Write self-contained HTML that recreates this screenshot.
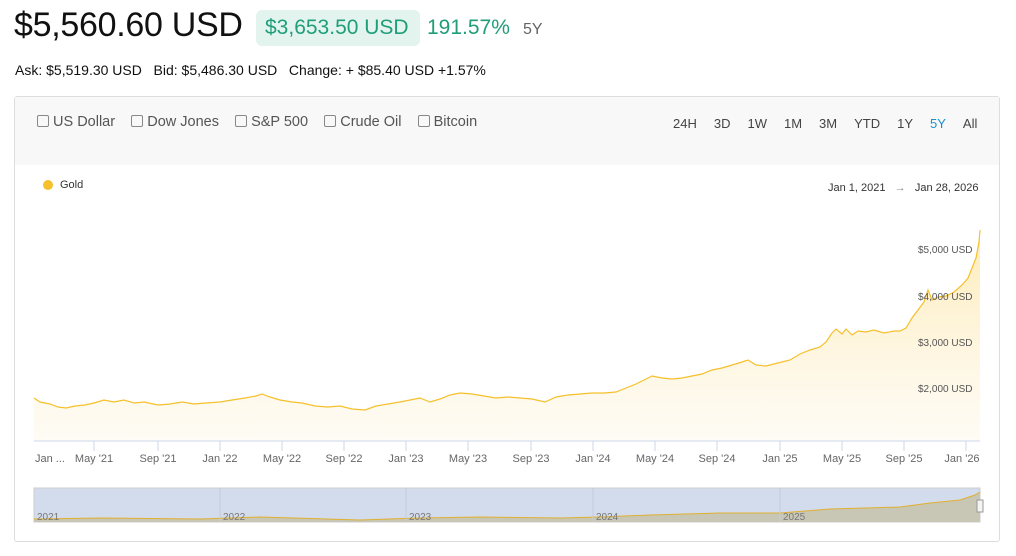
<!DOCTYPE html>
<html><head><style>
body{margin:0;width:1016px;height:556px;background:#fff;font-family:"Liberation Sans",sans-serif;position:relative;overflow:hidden;color:#111}
.a{position:absolute;white-space:nowrap}
</style></head><body>
<div class="a" style="left:14px;top:6px;font-size:34px;color:#111;letter-spacing:-0.3px">$5,560.60 USD</div>
<div class="a" style="left:256px;top:10px;width:164px;height:36px;background:#e3f4ef;border-radius:6px"></div>
<div class="a" style="left:265px;top:16px;font-size:21px;color:#1f9e78">$3,653.50 USD</div>
<div class="a" style="left:427px;top:16px;font-size:21px;color:#1f9e78">191.57%</div>
<div class="a" style="left:523px;top:21px;font-size:16px;color:#666">5Y</div>
<div class="a" style="left:15px;top:62px;font-size:14px;color:#111">Ask: $5,519.30 USD&nbsp;&nbsp;&nbsp;Bid: $5,486.30 USD&nbsp;&nbsp;&nbsp;Change: + $85.40 USD +1.57%</div>
<div class="a" style="left:14px;top:96px;width:984px;height:444px;border:1px solid #ddd;border-radius:3px"></div>
<div class="a" style="left:15px;top:97px;width:984px;height:68px;background:#f8f8f8"></div>
<div class="a" style="left:37px;top:114px;font-size:14.5px;color:#555">
<span style="display:inline-block;width:10px;height:10px;border:1px solid #888;border-radius:2px;vertical-align:-1px"></span> US Dollar&nbsp;&nbsp;&nbsp;
<span style="display:inline-block;width:10px;height:10px;border:1px solid #888;border-radius:2px;vertical-align:-1px"></span> Dow Jones&nbsp;&nbsp;&nbsp;
<span style="display:inline-block;width:10px;height:10px;border:1px solid #888;border-radius:2px;vertical-align:-1px"></span> S&amp;P 500&nbsp;&nbsp;&nbsp;
<span style="display:inline-block;width:10px;height:10px;border:1px solid #888;border-radius:2px;vertical-align:-1px"></span> Crude Oil&nbsp;&nbsp;&nbsp;
<span style="display:inline-block;width:10px;height:10px;border:1px solid #888;border-radius:2px;vertical-align:-1px"></span> Bitcoin</div>
<div class="a" style="left:673px;top:116px;font-size:13px;color:#444">
<span style="margin-right:17px">24H</span><span style="margin-right:17px">3D</span><span style="margin-right:17px">1W</span><span style="margin-right:17px">1M</span><span style="margin-right:17px">3M</span><span style="margin-right:17px">YTD</span><span style="margin-right:17px">1Y</span><span style="margin-right:17px;color:#1a8fd0">5Y</span><span>All</span></div>
<div class="a" style="left:43px;top:180px;width:10px;height:10px;border-radius:50%;background:#f6c02c"></div>
<div class="a" style="left:60px;top:179px;font-size:11px;color:#333">Gold</div>
<div class="a" style="left:828px;top:182px;font-size:11px;color:#333">Jan 1, 2021 &nbsp;&nbsp;<span style="color:#888">→</span>&nbsp;&nbsp; Jan 28, 2026</div>
<svg class="a" style="left:0;top:0" width="1016" height="556">
<defs><linearGradient id="g" x1="0" y1="0" x2="0" y2="1"><stop offset="0" stop-color="#fde9b0" stop-opacity=".9"/><stop offset="1" stop-color="#fef8ea" stop-opacity=".5"/></linearGradient></defs>
<path d="M34,398 L40,402 50,404 58,407 66,408 75,406 85,405 94,403 104,400 114,402 124,400 134,403 144,402 158,405 170,404 182,402 194,404 206,403 220,402 232,400 245,398 256,396 262,394 270,397 280,400 292,402 302,403 315,406 328,407 340,406 352,409 365,410 376,406 388,404 400,402 410,400 420,398 430,402 440,399 450,395 460,393 472,394 484,396 496,398 508,397 520,398 532,399 545,402 556,397 568,395 580,394 592,393 604,393 616,392 626,388 636,384 646,379 652,376 662,378 672,379 682,378 692,376 702,374 712,370 722,368 732,365 742,362 748,360 756,365 766,366 778,363 790,360 800,354 810,350 820,347 826,342 832,333 836,329 842,334 846,329 852,335 858,331 866,332 874,330 884,333 894,331 900,331 906,328 912,318 918,310 924,302 928,290 932,300 938,297 946,296 954,292 962,285 968,278 972,268 976,258 979,242 980,230 L980,441 L34,441Z" fill="url(#g)"/>
<path d="M34,398 L40,402 50,404 58,407 66,408 75,406 85,405 94,403 104,400 114,402 124,400 134,403 144,402 158,405 170,404 182,402 194,404 206,403 220,402 232,400 245,398 256,396 262,394 270,397 280,400 292,402 302,403 315,406 328,407 340,406 352,409 365,410 376,406 388,404 400,402 410,400 420,398 430,402 440,399 450,395 460,393 472,394 484,396 496,398 508,397 520,398 532,399 545,402 556,397 568,395 580,394 592,393 604,393 616,392 626,388 636,384 646,379 652,376 662,378 672,379 682,378 692,376 702,374 712,370 722,368 732,365 742,362 748,360 756,365 766,366 778,363 790,360 800,354 810,350 820,347 826,342 832,333 836,329 842,334 846,329 852,335 858,331 866,332 874,330 884,333 894,331 900,331 906,328 912,318 918,310 924,302 928,290 932,300 938,297 946,296 954,292 962,285 968,278 972,268 976,258 979,242 980,230" fill="none" stroke="#f6c02c" stroke-width="1.2"/>
<line x1="34" y1="441" x2="980" y2="441" stroke="#ccd6eb"/>
<g font-size="10" fill="#555" font-family="Liberation Sans">
<text x="918" y="253">$5,000 USD</text><text x="918" y="300">$4,000 USD</text><text x="918" y="346">$3,000 USD</text><text x="918" y="392">$2,000 USD</text>
</g>
<g stroke="#ccd6eb"><line x1="94" y1="441" x2="94" y2="451"/><line x1="158" y1="441" x2="158" y2="451"/><line x1="220" y1="441" x2="220" y2="451"/><line x1="282" y1="441" x2="282" y2="451"/><line x1="344" y1="441" x2="344" y2="451"/><line x1="406" y1="441" x2="406" y2="451"/><line x1="468" y1="441" x2="468" y2="451"/><line x1="531" y1="441" x2="531" y2="451"/><line x1="593" y1="441" x2="593" y2="451"/><line x1="655" y1="441" x2="655" y2="451"/><line x1="717" y1="441" x2="717" y2="451"/><line x1="780" y1="441" x2="780" y2="451"/><line x1="842" y1="441" x2="842" y2="451"/><line x1="904" y1="441" x2="904" y2="451"/><line x1="966" y1="441" x2="966" y2="451"/></g>
<g font-size="11" fill="#666" text-anchor="middle" font-family="Liberation Sans">
<text x="50" y="462">Jan ...</text><text x="94" y="462">May '21</text><text x="158" y="462">Sep '21</text><text x="220" y="462">Jan '22</text><text x="282" y="462">May '22</text><text x="344" y="462">Sep '22</text><text x="406" y="462">Jan '23</text><text x="468" y="462">May '23</text><text x="531" y="462">Sep '23</text><text x="593" y="462">Jan '24</text><text x="655" y="462">May '24</text><text x="717" y="462">Sep '24</text><text x="780" y="462">Jan '25</text><text x="842" y="462">May '25</text><text x="904" y="462">Sep '25</text><text x="962" y="462">Jan '26</text></g>
<rect x="34" y="488" width="946" height="34" fill="#d3dcec"/>
<rect x="34" y="488" width="946" height="34" fill="none" stroke="#ccc"/>
<path d="M34,519 L100,518 200,519 260,517 360,520 420,518 480,517 560,518 600,517 650,515 720,513 780,513 830,509 900,507 930,503 960,500 975,495 980,492 L980,522 L34,522Z" fill="#c8c6b4"/>
<path d="M34,519 L100,518 200,519 260,517 360,520 420,518 480,517 560,518 600,517 650,515 720,513 780,513 830,509 900,507 930,503 960,500 975,495 980,492" fill="none" stroke="#e0b030" stroke-width="1"/>
<g stroke="#c5ccd8"><line x1="220" y1="488" x2="220" y2="522"/><line x1="406" y1="488" x2="406" y2="522"/><line x1="593" y1="488" x2="593" y2="522"/><line x1="780" y1="488" x2="780" y2="522"/></g>
<g font-size="10" fill="#777" font-family="Liberation Sans"><text x="37" y="520">2021</text><text x="223" y="520">2022</text><text x="409" y="520">2023</text><text x="596" y="520">2024</text><text x="783" y="520">2025</text></g>
<rect x="977" y="500" width="6" height="12" fill="#f4f4f4" stroke="#999"/>
</svg>
</body></html>
